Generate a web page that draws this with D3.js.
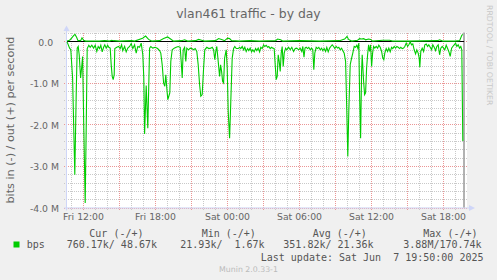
<!DOCTYPE html>
<html><head><meta charset="utf-8">
<script src="https://cdn.jsdelivr.net/npm/d3@7/dist/d3.min.js"></script>
<style>
html,body{margin:0;padding:0;background:#f0f0f0;}
svg{display:block;}
text{white-space:pre;}
</style></head><body>
<svg id="chart" width="497" height="280" xml:space="preserve"></svg>
<script>
// ---------- data ----------
const chartTitle = "vlan461 traffic - by day";
const yAxisTitle = "bits in (-) / out (+) per second";
const startTime = new Date(2025, 5, 6, 10, 40);   // Fri 10:40
const endTime = new Date(2025, 5, 7, 20, 0);      // Sat 20:00
const lastUpdateTime = new Date(2025, 5, 7, 19, 45);
const xTickTimes = [new Date(2025,5,6,12), new Date(2025,5,6,18), new Date(2025,5,7,0),
                    new Date(2025,5,7,6), new Date(2025,5,7,12), new Date(2025,5,7,18)];
const xTickLabels = ["Fri 12:00", "Fri 18:00", "Sat 00:00", "Sat 06:00", "Sat 12:00", "Sat 18:00"];
const yTickValues = [0, -1e6, -2e6, -3e6, -4e6];
const yTickLabels = ["0.0  ", "-1.0 M", "-2.0 M", "-3.0 M", "-4.0 M"];

// minutes after Fri 10:40, values in Mbit/s
const inMinutes = [0,3,13,19,28,39,46,51,56,61,68,73,78,84,91,96,101,109,116,124,133,141,149,156,163,169,176,183,189,196,203,209,216,221,226,231,236,239,249,258,266,273,279,288,296,304,313,321,329,338,346,354,363,371,379,384,388,396,404,413,419,429,441,453,463,469,476,483,489,494,499,504,509,514,519,526,536,546,556,566,571,576,581,588,594,599,608,616,624,633,641,649,656,663,669,676,683,689,699,709,719,726,733,739,744,749,756,763,768,773,778,783,788,796,801,806,813,819,826,833,839,846,856,863,869,876,883,889,896,903,909,916,923,929,936,943,949,956,963,969,976,983,989,996,1003,1009,1016,1023,1029,1036,1041,1046,1051,1056,1061,1066,1071,1076,1081,1086,1093,1099,1108,1116,1124,1133,1141,1149,1158,1166,1174,1179,1185,1190,1196,1203,1209,1216,1223,1229,1234,1239,1246,1253,1259,1266,1273,1279,1286,1293,1299,1306,1313,1319,1326,1333,1339,1346,1353,1359,1366,1373,1379,1386,1393,1399,1404,1409,1416,1423,1429,1436,1443,1449,1454,1459,1463,1468,1473,1476,1483,1488,1493,1498,1503,1508,1513,1518,1523,1528,1533,1539,1546,1553,1559,1566,1573,1579,1584,1589,1596,1603,1609,1616,1623,1629,1636,1643,1649,1656,1663,1669,1676,1683,1689,1696,1703,1709,1716,1723,1729,1736,1743,1749,1756,1761,1764,1769,1776,1783,1789,1796,1803,1809,1816,1823,1829,1836,1843,1849,1856,1863,1869,1876,1883,1889,1896,1903,1909,1916,1923,1929,1936,1943,1949,1956,1963,1969,1974,1979];
const inMbps = [-0.01,-0.04,-0.16,-0.20,-0.88,-3.21,-1.28,-0.16,-0.12,-0.32,-0.88,-0.64,-0.36,-2.08,-3.89,-2.08,-0.17,-0.09,-0.14,-0.09,-0.16,-0.09,-0.24,-0.12,-0.17,-0.09,-0.25,-0.14,-0.08,-0.16,-0.09,-0.14,-0.16,-0.56,-0.84,-0.92,-0.80,-0.17,-0.14,-0.12,-0.17,-0.08,-0.22,-0.12,-0.25,-0.16,-0.12,-0.05,-0.17,-0.08,-0.28,-0.12,-0.14,-0.04,-0.32,-0.88,-2.23,-1.06,-2.09,-0.16,-0.12,-0.16,-0.14,-0.17,-0.22,-0.28,-0.56,-1.00,-1.08,-0.80,-1.12,-1.40,-1.32,-1.24,-0.48,-0.20,-0.16,-0.14,-0.12,-0.14,-0.48,-0.88,-0.20,-0.14,-0.48,-0.16,-0.20,-0.16,-0.17,-0.20,-0.17,-0.24,-0.56,-1.04,-1.32,-1.28,-0.64,-0.20,-0.14,-0.17,-0.16,-0.14,-0.20,-0.44,-0.24,-0.12,-0.48,-0.84,-0.56,-0.72,-0.96,-1.00,-0.40,-0.20,-0.64,-1.68,-2.33,-1.44,-0.40,-0.17,-0.12,-0.17,-0.17,-0.14,-0.17,-0.12,-0.20,-0.14,-0.24,-0.17,-0.22,-0.16,-0.25,-0.20,-0.25,-0.17,-0.22,-0.16,-0.25,-0.14,-0.17,-0.08,-0.12,-0.09,-0.14,-0.12,-0.17,-0.14,-0.16,-0.17,-0.56,-0.92,-0.84,-0.32,-0.48,-0.72,-0.28,-0.12,-0.60,-0.28,-0.16,-0.20,-0.14,-0.20,-0.14,-0.24,-0.17,-0.16,-0.20,-0.16,-0.24,-0.12,-0.38,-0.16,-0.14,-0.17,-0.14,-0.20,-0.16,-0.20,-0.68,-0.28,-0.14,-0.17,-0.14,-0.20,-0.16,-0.22,-0.17,-0.24,-0.14,-0.25,-0.16,-0.12,-0.08,-0.12,-0.17,-0.12,-0.16,-0.14,-0.20,-0.16,-0.22,-0.28,-0.48,-1.68,-2.77,-1.68,-0.56,-0.40,-0.28,-0.12,-0.14,-0.09,-0.16,-0.04,-1.28,-2.33,-0.72,-0.32,-0.96,-1.28,-1.24,-0.64,-0.32,-0.08,-0.24,-0.08,-0.60,-0.28,-0.12,-0.16,-0.12,-0.16,-0.09,-0.14,-0.24,-0.40,-0.44,-0.28,-0.17,-0.24,-0.16,-0.25,-0.14,-0.17,-0.12,-0.16,-0.12,-0.14,-0.17,-0.14,-0.17,-0.16,-0.12,-0.04,-0.12,-0.08,-0.01,-0.08,-0.06,-0.20,-0.30,-0.20,-0.28,-0.40,-0.62,-0.24,-0.16,-0.24,-0.08,-0.06,-0.12,-0.08,-0.14,-0.20,-0.08,-0.14,-0.22,-0.12,-0.08,-0.32,-0.16,-0.12,-0.16,-0.20,-0.09,-0.17,-0.24,-0.36,-0.16,-0.12,-0.08,-0.04,-0.12,-0.08,-0.16,-0.12,-0.20,-2.40];

const outMinutes = [0,13,23,33,40,48,55,68,75,83,93,163,188,213,223,233,263,323,338,378,393,408,423,463,483,503,518,533,573,588,603,643,658,673,688,743,758,773,788,803,813,823,863,913,963,1043,1053,1068,1078,1163,1263,1363,1388,1400,1408,1423,1453,1463,1473,1483,1493,1508,1518,1528,1578,1613,1628,1713,1853,1863,1878,1938,1963,1974,1979];
const outMbps = [0.01,0.03,0.08,0.14,0.17,0.10,0.02,0.02,0.09,0.03,0.01,0.01,0.02,0.01,0.03,0.02,0.01,0.02,0.01,0.08,0.13,0.05,0.01,0.02,0.07,0.11,0.06,0.01,0.02,0.04,0.01,0.02,0.05,0.03,0.01,0.02,0.07,0.05,0.02,0.08,0.07,0.02,0.01,0.02,0.01,0.02,0.06,0.04,0.01,0.02,0.01,0.02,0.06,0.12,0.05,0.01,0.03,0.07,0.06,0.07,0.04,0.06,0.05,0.01,0.03,0.03,0.01,0.01,0.02,0.04,0.01,0.01,0.02,0.15,0.17];

const legendSeries = "bps";
const legendHeaders = ["Cur (-/+)", "Min (-/+)", "Avg (-/+)", "Max (-/+)"];
const legendValues = ["760.17k/ 48.67k", "21.93k/  1.67k", "351.82k/ 21.36k", "3.88M/170.74k"];
const lastUpdateText = "Last update: Sat Jun  7 19:50:00 2025";
const watermarkText = "Munin 2.0.33-1";
const signatureText = "RRDTOOL / TOBI OETIKER";

// ---------- layout ----------
const W = 497, H = 280;
const plot = {left: 67, right: 467, top: 32.5, bottom: 207.5};
const FONT = "#666666", AXIS = "#CFD6F8";
const svg = d3.select("#chart");
svg.append("rect").attr("width", W).attr("height", H).attr("fill", "#f0f0f0");

const x = d3.scaleTime().domain([startTime, endTime]).range([plot.left, plot.right]);
const y = d3.scaleLinear().domain([-4e6, 0.2168e6]).range([plot.bottom, plot.top]);

svg.append("rect").attr("x", plot.left).attr("y", plot.top)
  .attr("width", plot.right - plot.left).attr("height", plot.bottom - plot.top).attr("fill", "#fff");

// grid
const grid = svg.append("g").attr("shape-rendering", "crispEdges");
const minorHours = d3.timeHour.every(1).range(startTime, endTime);
minorHours.forEach(t => {
  const major = t.getHours() % 3 === 0;
  const xx = Math.round(x(t)) + 0.5;
  grid.append("line").attr("x1", xx).attr("x2", xx).attr("y1", plot.top).attr("y2", plot.bottom + 3)
    .attr("stroke", major ? "#eb9696" : "#c9c9c9").attr("stroke-dasharray", "1,1");
});
d3.range(-20, 2).forEach(k => {
  const v = k * 0.2e6;
  const major = k % 5 === 0;
  const yy = Math.round(y(v)) + 0.5;
  grid.append("line").attr("x1", plot.left - 3).attr("x2", plot.right).attr("y1", yy).attr("y2", yy)
    .attr("stroke", major ? "#eb9696" : "#c9c9c9").attr("stroke-dasharray", "1,1");
});

// axes lines + arrows
const ax = svg.append("g");
ax.append("line").attr("x1", plot.left - 0.5).attr("x2", plot.left - 0.5).attr("y1", plot.bottom + 3).attr("y2", 29)
  .attr("stroke", AXIS);
ax.append("path").attr("d", `M${plot.left - 3.5},31 L${plot.left - 0.5},25.5 L${plot.left + 2.5},31 Z`).attr("fill", AXIS);
ax.append("line").attr("x1", plot.left - 3).attr("x2", plot.right + 4).attr("y1", plot.bottom + 0.5).attr("y2", plot.bottom + 0.5)
  .attr("stroke", AXIS);
ax.append("path").attr("d", `M${plot.right + 2},${plot.bottom - 2.5} L${plot.right + 8},${plot.bottom + 0.5} L${plot.right + 2},${plot.bottom + 3.5} Z`).attr("fill", AXIS);

// last update marker
svg.append("line").attr("x1", x(lastUpdateTime)).attr("x2", x(lastUpdateTime))
  .attr("y1", plot.top).attr("y2", plot.bottom).attr("stroke", "#999").attr("stroke-width", 1.5);

// zero line
svg.append("line").attr("x1", plot.left).attr("x2", x(lastUpdateTime)).attr("y1", y(0)).attr("y2", y(0))
  .attr("stroke", "#000").attr("stroke-width", 1.2);

// data lines
const inData = inMinutes.map((m, i) => ({t: new Date(startTime.getTime() + m * 60000), v: inMbps[i] * 1e6}));
const outData = outMinutes.map((m, i) => ({t: new Date(startTime.getTime() + m * 60000), v: outMbps[i] * 1e6}));
const line = d3.line().x(d => x(d.t)).y(d => y(d.v));
svg.append("path").datum(outData).attr("d", line).attr("fill", "none").attr("stroke", "#00cc00").attr("stroke-width", 1.1);
svg.append("path").datum(inData).attr("d", line).attr("fill", "none").attr("stroke", "#00cc00").attr("stroke-width", 1.1);

// x axis labels
const xAxis = d3.axisBottom(x).tickValues(xTickTimes).tickFormat((d, i) => xTickLabels[i]).tickSize(0).tickPadding(0);
const gx = svg.append("g").attr("transform", `translate(0,${plot.bottom})`).call(xAxis);
gx.select(".domain").remove();
gx.selectAll("text").attr("dy", null).attr("y", 12).attr("fill", FONT)
  .style("font-family", "DejaVu Sans").style("font-size", "9.3px");

// y axis labels
const yAxis = d3.axisLeft(y).tickValues(yTickValues).tickFormat((d, i) => yTickLabels[i]).tickSize(0).tickPadding(0);
const gy = svg.append("g").attr("transform", `translate(59,0)`).call(yAxis);
gy.select(".domain").remove();
gy.selectAll("text").attr("dy", null).attr("x", 0).attr("y", 3.6).attr("fill", FONT)
  .style("font-family", "DejaVu Sans").style("font-size", "9.3px").attr("xml:space", "preserve");

// titles
svg.append("text").attr("x", 248.5).attr("y", 17.5).attr("text-anchor", "middle").attr("fill", FONT)
  .style("font-family", "DejaVu Sans").style("font-size", "12.4px").text(chartTitle);
svg.append("text").attr("transform", `translate(14,${(plot.top + plot.bottom) / 2}) rotate(-90)`)
  .attr("text-anchor", "middle").attr("fill", FONT)
  .style("font-family", "DejaVu Sans").style("font-size", "11.2px").text(yAxisTitle);
svg.append("text").attr("transform", `translate(486.5,5) rotate(90)`)
  .attr("fill", "#c8c8c8").style("font-family", "DejaVu Sans").style("font-size", "7.8px").text(signatureText);

// legend
const mono = "DejaVu Sans Mono";
const leg = svg.append("g").attr("fill", "#555").style("font-family", mono).style("font-size", "10px");
const headerX = [89.3, 201.7, 312.7, 423.3];
const valueX = [66.7, 180.3, 283.3, 403.3];
legendHeaders.forEach((h, i) => leg.append("text").attr("x", headerX[i]).attr("y", 237).text(h));
legendValues.forEach((v, i) => leg.append("text").attr("x", valueX[i]).attr("y", 248).text(v));
svg.append("rect").attr("x", 13.5).attr("y", 241.5).attr("width", 6).attr("height", 6).attr("fill", "#00cc00");
leg.append("text").attr("x", 26.7).attr("y", 248).text(legendSeries);
leg.append("text").attr("x", 483.5).attr("y", 261).attr("text-anchor", "end").text(lastUpdateText);
svg.append("text").attr("x", 248.5).attr("y", 272).attr("text-anchor", "middle").attr("fill", "#bbbbbb")
  .style("font-family", "DejaVu Sans").style("font-size", "7.8px").text(watermarkText);
</script>
</body></html>
